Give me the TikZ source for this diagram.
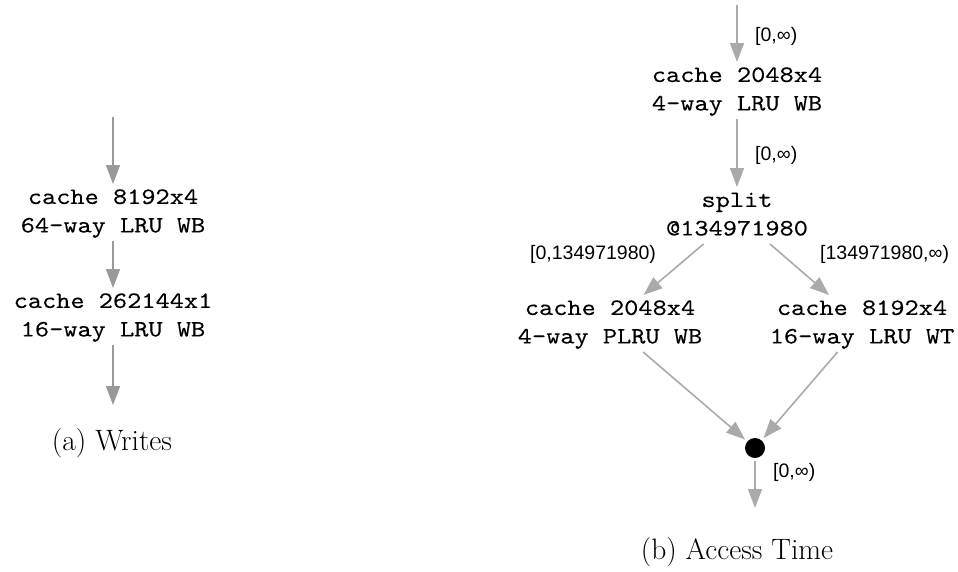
\documentclass[tikz,border=0pt]{standalone}
\usepackage{fontspec}
\newfontfamily\codefont{lmmono10-regular.otf}[FakeStretch=1.15,FakeBold=0.2]
\newfontfamily\labelfont{Liberation Sans}
\usetikzlibrary{arrows.meta}
\definecolor{edgeA}{RGB}{153,153,153}
\definecolor{edgeB}{RGB}{170,170,170}
\newcommand{\twolines}[2]{\begin{tabular}{@{}c@{}}#1\\#2\end{tabular}}
\begin{document}
\begin{tikzpicture}[x=1pt,y=-1pt,
  box/.style={inner sep=0pt, outer sep=0pt, font=\codefont\fontsize{23.5}{28.5}\selectfont},
  lbl/.style={font=\labelfont\fontsize{19.5}{22}\selectfont, inner sep=0pt, anchor=base west},
  caption/.style={font=\fontsize{29.5}{34}\selectfont, inner sep=0pt, anchor=base},
  flowA/.style={draw=edgeA, line width=1.6pt, -{Triangle[length=19pt,width=14pt]}},
  flowB/.style={draw=edgeB, line width=1.6pt, -{Triangle[length=19pt,width=14pt]}},
  junction/.style={circle, fill=black, minimum size=20pt, inner sep=0pt, outer sep=3pt}]
\useasboundingbox (0,0) rectangle (958,571);

% (a) write path
\coordinate (wIn) at (113,117);
\node[box] (w1) at (113,212.5) {\twolines{cache 8192x4}{64-way LRU WB}};
\node[box] (w2) at (113,316.5) {\twolines{cache 262144x1}{16-way LRU WB}};
\coordinate (wOut) at (113,405);
\draw[flowA] (wIn) -- (w1);
\draw[flowA] (w1) -- (w2);
\draw[flowA] (w2) -- (wOut);
\node[caption] (capA) at (112,450) {(a) Writes};

% (b) access-time path
\coordinate (tIn) at (737,5);
\node[box] (r1) at (737,90.5) {\twolines{cache 2048x4}{4-way LRU WB}};
\node[box] (split) at (737,215.5) {\twolines{split}{@134971980}};
\node[box] (lo) at (610,323.5) {\twolines{cache 2048x4}{4-way PLRU WB}};
\node[box] (hi) at (862,323.5) {\twolines{cache 8192x4}{16-way LRU WT}};
\node[junction] (join) at (755,448) {};
\coordinate (tOut) at (755,508);

\draw[flowB] (tIn) -- (r1);
\draw[flowB] (r1) -- (split);
\draw[flowB] (split) -- (lo);
\draw[flowB] (split) -- (hi);
\draw[flowB] (lo) -- (join);
\draw[flowB] (hi) -- (join);
\draw[flowB] (join) -- (tOut);

\node[lbl] (l1) at (755,41) {[0,∞)};
\node[lbl] (l2) at (755,160) {[0,∞)};
\node[lbl] (l3) at (530,259) {[0,134971980)};
\node[lbl] (l4) at (820,259) {[134971980,∞)};
\node[lbl] (l5) at (773,477) {[0,∞)};

\node[caption] (capB) at (737,559) {(b) Access Time};
\end{tikzpicture}
\end{document}
